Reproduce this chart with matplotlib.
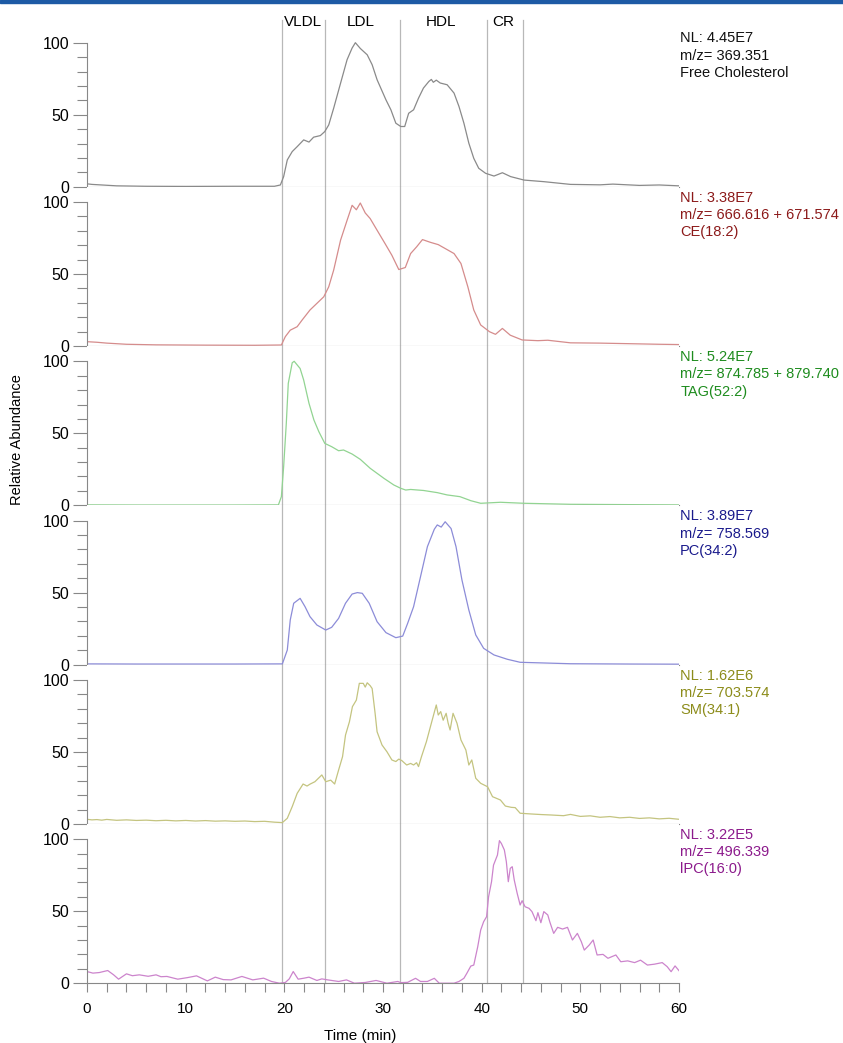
import matplotlib
matplotlib.use("Agg")
import matplotlib.pyplot as plt
from matplotlib.patches import Rectangle
from matplotlib.ticker import MultipleLocator, FixedLocator

plt.rcParams['font.family'] = ['Liberation Sans', 'DejaVu Sans']

# ---- data ----
fc_t = [0, 0.5, 1.5, 3, 6, 10, 15, 19.0, 19.6, 19.93,
        20.3, 20.8, 21.3, 21.96, 22.5, 22.97, 23.65, 24.1, 24.5, 25.0,
        25.7, 26.36, 26.87, 27.2, 27.7, 28.4, 28.9, 29.4, 30.3, 30.8,
        31.3, 31.8, 32.2, 32.6, 33.1, 33.6, 34.1, 34.65, 34.9, 35.1,
        35.4, 35.8, 36.5, 37.2, 37.7, 38.2, 38.7, 39.2, 39.7, 40.4,
        41.25, 42.1, 42.94, 44.3, 46.3, 49.0, 52, 53.3, 56, 58, 60]
fc_v = [2, 1.6, 1.2, 0.6, 0.3, 0.2, 0.3, 0.3, 1.2, 7,
        18.6, 24.4, 27.8, 32.5, 31, 34.4, 35.5, 38.3, 42.9, 54.5,
        71.9, 88.2, 96.3, 100, 96, 91.6, 84.7, 74.3, 60.3, 53.4,
        44.1, 41.8, 41.8, 51, 53.4, 61.5, 68.5, 73.1, 74.5, 72.5,
        74, 72, 70.8, 65, 55.7, 44.1, 30.2, 19.7, 12.8, 9.3,
        7.4, 9.7, 7, 4.6, 3.5, 1.6, 1.3, 1.8, 0.9, 1.2, 0.6]

ce_t = [0, 1, 2, 4, 7, 12, 17, 19.7, 20.1, 20.6,
        21.3, 21.8, 22.6, 23.3, 24.0, 24.5, 25.0, 25.7, 26.36, 26.87,
        27.3, 27.7, 28.2, 28.7, 29.4, 30.2, 30.9, 31.6, 32.26, 32.8,
        33.4, 34.0, 34.8, 35.6, 36.3, 37.2, 37.9, 38.6, 39.2, 39.9,
        40.8, 41.4, 42.1, 42.9, 44.1, 45.7, 46.7, 49.0, 52, 55, 58, 60]
ce_v = [3, 2.6, 2.0, 1.2, 0.8, 0.6, 0.5, 0.7, 6.5, 11,
        13.4, 18, 25, 29.6, 34.2, 41.1, 52.7, 73.5, 87.3, 97.7,
        94.6, 99.3, 92.4, 88.5, 80.4, 71.2, 63, 53.1, 54.5, 64.2,
        68.8, 73.9, 72, 70.4, 67.7, 64.2, 57.3, 41.1, 25, 14.6,
        9.9, 8.1, 12.2, 7.5, 4.2, 3.7, 4, 2.2, 2, 1.6, 1.2, 1.0]

tag_t = [0, 5, 10, 15, 19.4, 19.7, 19.93, 20.2, 20.4, 20.8,
         21.0, 21.6, 21.96, 22.5, 23.0, 23.5, 24.1, 24.8, 25.5, 26.0,
         26.87, 27.7, 28.7, 30.1, 31.1, 31.8, 32.3, 32.8, 34.1, 35.5,
         36.5, 37.8, 38.9, 39.9, 41.9, 44.3, 49.0, 54, 60]
tag_v = [0.3, 0.2, 0.2, 0.2, 0.3, 6, 26.8, 57, 84.7, 99,
         100, 95, 87, 70.8, 59.2, 51.1, 43, 40.7, 37.9, 38.4,
         35.6, 31.9, 25.7, 18.7, 14.1, 11.8, 10.6, 11, 10.3, 8.8,
         7.2, 6, 3.2, 1.4, 2.1, 1.4, 0.7, 0.5, 0.3]

pc_t = [0, 5, 10, 15, 19.8, 20.3, 20.6, 20.95, 21.6, 22.1,
        22.6, 23.3, 24.2, 24.8, 25.5, 26.2, 26.87, 27.4, 27.9, 28.6,
        29.4, 30.3, 31.3, 32.0, 32.5, 33.1, 33.8, 34.5, 35.2, 35.5,
        35.9, 36.3, 36.9, 37.4, 38.0, 38.7, 39.4, 40.2, 41.25, 42.6,
        43.9, 49.0, 55, 60]
pc_v = [0.5, 0.4, 0.4, 0.4, 0.5, 10.1, 31, 42.6, 46, 40.2,
        33.3, 27.5, 24, 25.9, 32.1, 42.6, 49, 50, 49.5, 42.6,
        29.8, 22.2, 18.7, 19.8, 28.7, 40.2, 61, 81.9, 94, 97,
        95.5, 99.2, 94.5, 81.9, 58.8, 37.9, 20.6, 11.3, 6.7, 3.7,
        1.6, 0.6, 0.4, 0.3]

sm_t = [0, 0.5, 1, 1.5, 2, 3, 4, 5, 6, 7,
        8, 9, 10, 11, 12, 13, 14, 15, 16, 17,
        18, 19, 19.8, 20.3, 20.8, 21.3, 21.9, 22.3, 22.6, 23.1,
        23.8, 24.2, 24.7, 25.1, 25.5, 25.9, 26.2, 26.6, 26.9, 27.3,
        27.6, 28.0, 28.2, 28.4, 28.7, 28.9, 29.2, 29.4, 29.9, 30.4,
        30.9, 31.3, 31.6, 31.9, 32.4, 32.8, 33.1, 33.4, 33.6, 33.9,
        34.4, 34.9, 35.4, 35.6, 35.85, 36.1, 36.4, 36.6, 36.8, 37.1,
        37.5, 37.9, 38.4, 38.7, 39.0, 39.4, 39.9, 40.6, 41.1, 41.9,
        42.4, 43.0, 43.4, 43.9, 45.0, 46.0, 47.0, 48.3, 49.0, 50,
        51, 52, 53, 54, 55, 56, 57, 58, 59, 60]
sm_v = [3.2, 2.8, 3.0, 2.6, 3.1, 2.5, 2.8, 2.4, 2.6, 2.2,
        2.5, 2.1, 2.4, 2.0, 2.3, 1.9, 2.1, 1.8, 2.0, 1.6,
        1.8, 1.2, 0.9, 3.9, 12, 21.2, 27.7, 26.3, 27.6, 29.3,
        34, 29.3, 30.4, 27.7, 37.4, 46.7, 61.7, 71, 81.4, 86,
        97.6, 97.6, 95, 98, 96, 94, 76.8, 64, 54.8, 50.1,
        44.4, 43.3, 45, 44, 40.9, 42, 40.9, 42.5, 39.8, 46.7,
        57.1, 69.9, 82.6, 75.6, 78, 72, 76.8, 70, 65.2, 76.8,
        69.9, 58.3, 51.3, 40.9, 44.4, 31.7, 28.2, 25.8, 18.9, 16.6,
        12.4, 11.5, 11.3, 7.4, 6.9, 6.5, 6.2, 5.7, 6.6, 5.2,
        5.6, 4.6, 5.1, 4.2, 4.6, 3.8, 4.2, 3.5, 3.9, 3.2]

ipc_t = [0, 0.6, 1.25, 2.1, 2.7, 3.2, 4.0, 4.6, 5.3, 6.2,
         7.0, 7.5, 8.1, 9.2, 10.2, 11.1, 12.2, 13.0, 13.8, 14.6,
         15.7, 16.8, 17.9, 18.7, 19.5, 20.1, 20.5, 20.9, 21.4, 22.0,
         22.5, 23.3, 23.8, 24.4, 25.5, 26.3, 27.1, 28.2, 29.3, 30.4,
         31.5, 31.8, 32.5, 33.3, 33.8, 34.5, 35.2, 35.7, 36.2, 37.2,
         37.7, 38.2, 38.5, 38.9, 39.2, 39.6, 39.9, 40.2, 40.5, 40.7,
         41.0, 41.2, 41.6, 41.8, 42.0, 42.3, 42.5, 42.7, 42.9, 43.1,
         43.3, 43.6, 43.9, 44.1, 44.4, 44.8, 45.1, 45.5, 45.7, 46.0,
         46.3, 46.7, 46.9, 47.3, 47.7, 48.2, 48.7, 49.2, 49.7, 50.1,
         50.4, 50.9, 51.3, 51.7, 52.3, 52.8, 53.6, 54.1, 54.8, 55.5,
         56.1, 56.8, 57.5, 58.3, 58.8, 59.2, 59.6, 60.0]
ipc_v = [8.1, 7.0, 7.4, 8.8, 5.8, 2.8, 6.5, 5.2, 5.8, 4.8,
         5.8, 4.5, 4.7, 2.8, 3.9, 5.1, 1.6, 4.2, 2.5, 2.3,
         4.7, 2.3, 3.5, 1.2, 0, 0.5, 3.0, 8.1, 2.8, 3.5,
         4.2, 1.9, 3.0, 2.3, 1.2, 2.3, 0, 0.5, 1.9, 0,
         1.2, 0.4, 0.6, 3.4, 1.2, 1.2, 3.4, 0, 0, 0,
         1.2, 3.4, 6.9, 11.9, 12.6, 25.3, 36.9, 42.7, 46.2, 60,
         70.5, 82, 89, 99, 97, 92.5, 84.4, 70.5, 79.8, 80.9,
         71.7, 62.4, 54.3, 57.3, 53.1, 52, 49.7, 43.4, 49, 42,
         49.7, 47.4, 42.7, 34.6, 38.8, 37.6, 38.8, 30, 34.6, 28.8,
         23, 26.5, 30, 19.6, 20, 17.3, 19.6, 14.9, 15.5, 14.3,
         16, 12.6, 13.2, 14.3, 11.5, 8, 12, 8.7]

labels = [["NL: 4.45E7", "m/z= 369.351", "Free Cholesterol"],
          ["NL: 3.38E7", "m/z= 666.616 + 671.574", "CE(18:2)"],
          ["NL: 5.24E7", "m/z= 874.785 + 879.740", "TAG(52:2)"],
          ["NL: 3.89E7", "m/z= 758.569", "PC(34:2)"],
          ["NL: 1.62E6", "m/z= 703.574", "SM(34:1)"],
          ["NL: 3.22E5", "m/z= 496.339", "lPC(16:0)"]]

# fraction boundaries and names
cuts = [19.75, 24.1, 31.75, 40.55, 44.2]
fractions = ["VLDL", "LDL", "HDL", "CR"]
fraction_pos = [21.9, 27.7, 35.9, 42.2]

series = [(fc_t, fc_v), (ce_t, ce_v), (tag_t, tag_v),
          (pc_t, pc_v), (sm_t, sm_v), (ipc_t, ipc_v)]
line_colors = ['#8a8a8a', '#d58c8c', '#92d492', '#8c8cd8', '#c4c480', '#cc84cc']
text_colors = ['#111111', '#8c1a1a', '#1e8c1e', '#1a1a8c', '#8c8c1a', '#8c1a8c']

W, H = 843, 1043
fig = plt.figure(figsize=(W / 100, H / 100), dpi=100)

# top blue band
fig.patches.append(Rectangle((0, 1 - 3.0 / H), 1, 3.0 / H, transform=fig.transFigure,
                             color='#1d5aa5', zorder=10))

left_px, right_px = 87, 679
panel_h = 159.3
base0 = 186.7
axes = []
for i, ((t, v), lc, tc, lab) in enumerate(zip(series, line_colors, text_colors, labels)):
    base = base0 + i * panel_h
    ax = fig.add_axes([left_px / W, (H - base) / H, (right_px - left_px) / W, panel_h / H])
    ax.plot(t, v, color=lc, lw=0.9)
    ax.set_xlim(0, 60)
    ax.set_ylim(0, panel_h / 1.44)
    for sp in ['top', 'right']:
        ax.spines[sp].set_visible(False)
    ax.spines['left'].set_bounds(0, 100)
    ax.spines['left'].set_color('#888888')
    ax.spines['bottom'].set_color('#888888')
    ax.spines['left'].set_linewidth(0.8)
    ax.spines['bottom'].set_linewidth(0.8)
    ax.yaxis.set_major_locator(FixedLocator([0, 50, 100]))
    ax.yaxis.set_minor_locator(FixedLocator([10, 20, 30, 40, 60, 70, 80, 90]))
    ax.tick_params(axis='y', which='major', length=10, width=0.8, color='#888888',
                   labelsize=11.5, pad=3)
    ax.tick_params(axis='y', which='minor', length=7, width=0.8, color='#888888')
    for c in cuts:
        ymax = 1.045 if i == 0 else 1.0
        ax.axvline(c, ymin=0, ymax=ymax, color='#b8b8b8', lw=0.9, clip_on=False, zorder=0)
    ax.text(1.002, 0.975, "\n".join(lab), transform=ax.transAxes, ha='left', va='top',
            fontsize=10.5, color=tc, linespacing=1.3)
    if i < 5:
        ax.tick_params(axis='x', which='both', bottom=False, labelbottom=False)
    else:
        ax.xaxis.set_major_locator(MultipleLocator(10))
        ax.xaxis.set_minor_locator(MultipleLocator(2))
        ax.tick_params(axis='x', which='both', length=6.5, width=0.8, color='#888888',
                       labelsize=11, pad=7)
    axes.append(ax)

top = axes[0]
for name, x in zip(fractions, fraction_pos):
    top.text(x, 1.031, name, transform=top.get_xaxis_transform(), ha='center', va='center',
             fontsize=11)

fig.text(17 / W, 1 - 440 / H, "Relative Abundance", rotation=90, ha='center', va='center',
         fontsize=10.5)
fig.text(360 / W, 1 - 1036 / H, "Time (min)", ha='center', va='center', fontsize=11)

fig.savefig("out.png", dpi=100, facecolor='white')
